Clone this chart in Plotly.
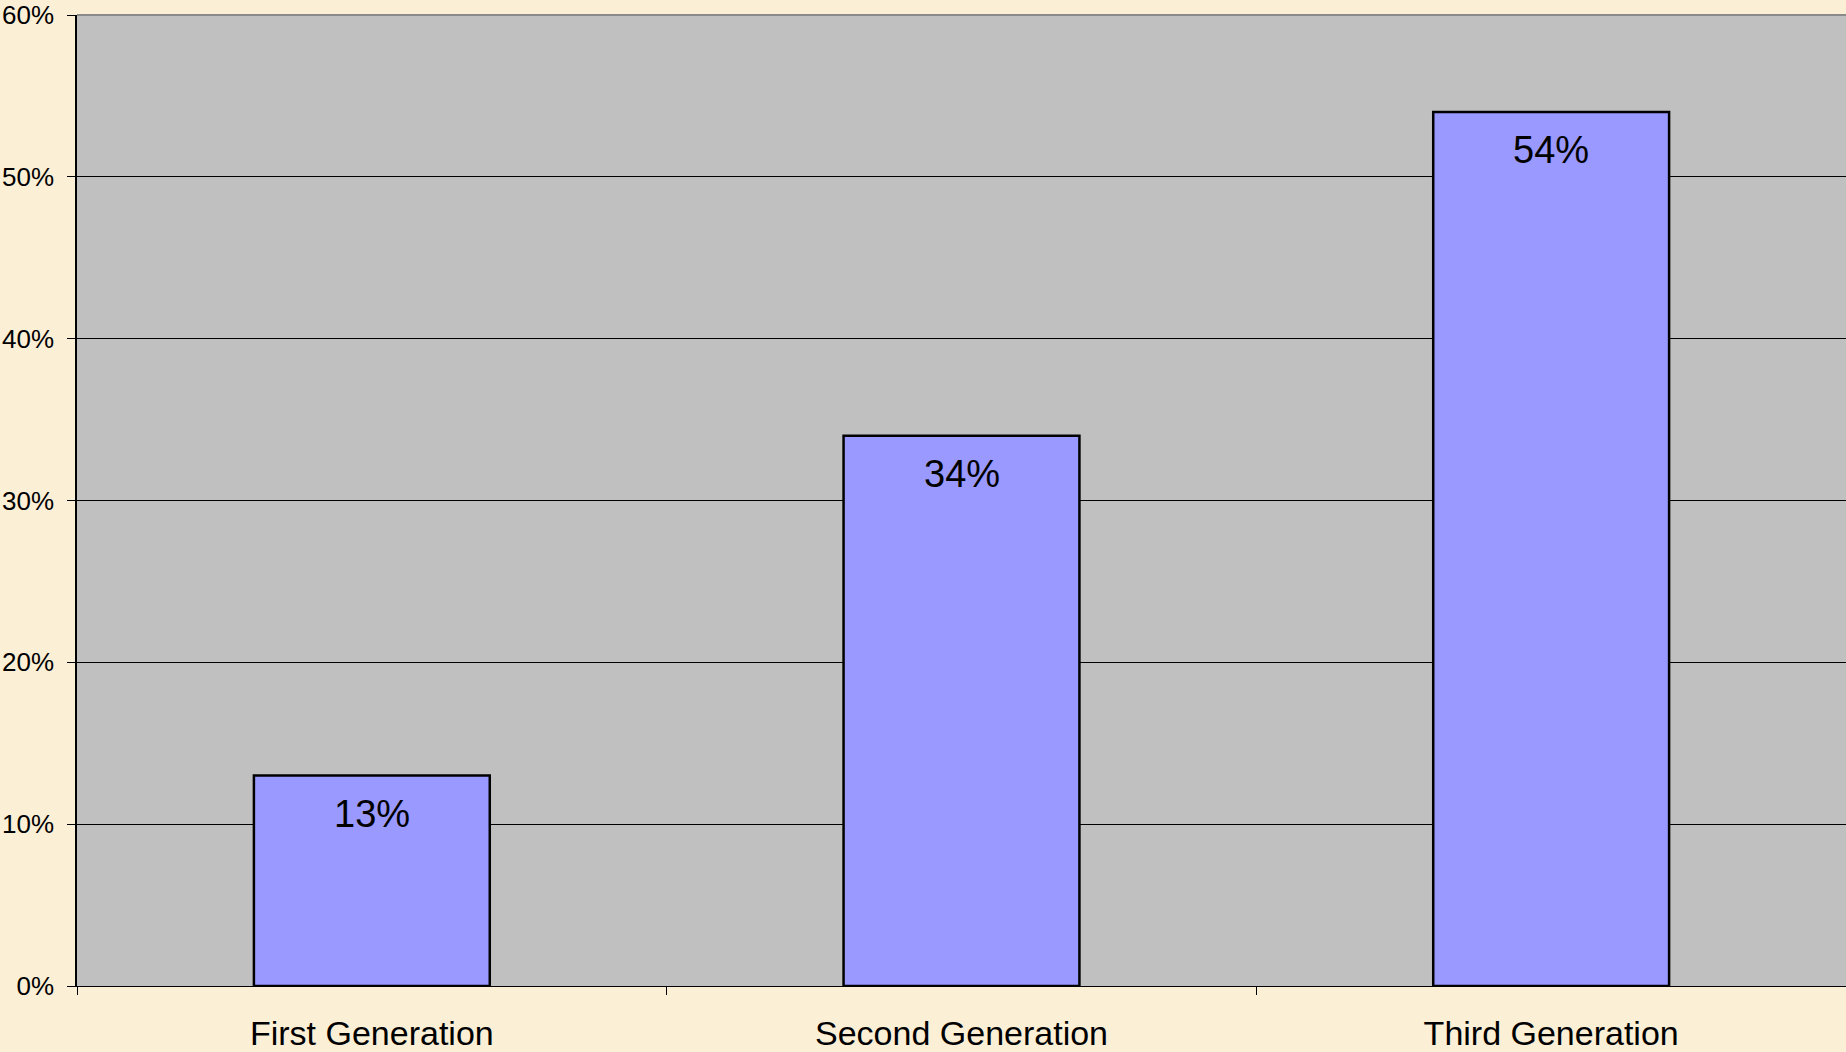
import plotly.graph_objects as go

categories = ["First Generation", "Second Generation", "Third Generation"]
values = [13, 34, 54]
value_labels = ["13%", "34%", "54%"]

FONT = "Liberation Sans, Arial, sans-serif"

fig = go.Figure()
fig.add_trace(go.Bar(
    x=categories,
    y=values,
    marker=dict(color="#9999FF", line=dict(color="#000000", width=2.5)),
    width=0.4,
    hoverinfo="skip",
))

for c, v, t in zip(categories, values, value_labels):
    fig.add_annotation(
        x=c, y=v, text=t, showarrow=False,
        yanchor="top", yshift=-15,
        font=dict(family=FONT, size=38, color="#000000"),
    )

fig.add_shape(
    type="line", xref="paper", yref="paper",
    x0=0, x1=1, y0=1, y1=1,
    line=dict(color="#8A8A8A", width=2),
)

fig.update_layout(
    width=1846, height=1052,
    margin=dict(l=77, r=0, t=12, b=66),
    paper_bgcolor="#FBEFD6",
    plot_bgcolor="#C0C0C0",
    showlegend=False,
    font=dict(family=FONT, color="#000000"),
    bargap=0.6,
)
fig.update_xaxes(
    type="category",
    showgrid=False,
    showline=True, linecolor="#000000", linewidth=1,
    ticks="outside", tickson="boundaries", ticklen=8, tickcolor="#000000", tickwidth=1,
    tickfont=dict(family=FONT, size=34, color="#000000"),
    ticklabelstandoff=17,
    range=[-0.5, 2.5],
)
fig.update_yaxes(
    range=[0, 60], dtick=10, ticksuffix="%",
    showgrid=True, gridcolor="#000000", gridwidth=1,
    showline=True, linecolor="#000000", linewidth=1.5,
    ticks="outside", ticklen=8, tickcolor="#000000", tickwidth=1,
    tickfont=dict(family=FONT, size=26, color="#000000"),
    ticklabelstandoff=8,
    ticklabeloverflow="allow",
    zeroline=False,
)

fig.write_html(
    "out.html",
    config={"displayModeBar": False},
    post_script="document.body.style.margin='0';document.body.style.overflow='hidden';",
)
